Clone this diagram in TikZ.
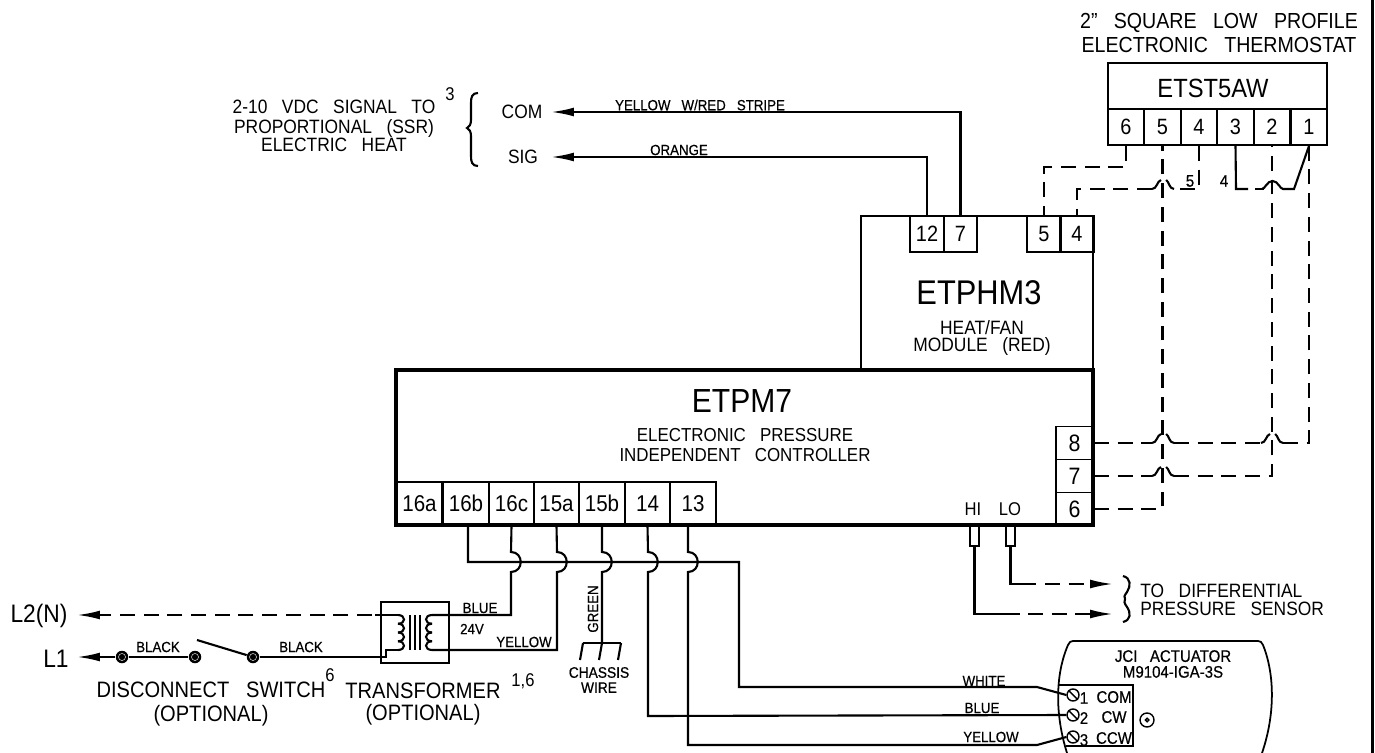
\documentclass[tikz,border=0pt]{standalone}
\usepackage{fontspec}
\setmainfont[FakeStretch=0.9,WordSpace=3]{Liberation Sans}
\newfontfamily\cadheavy[FakeStretch=0.9,WordSpace=3,FakeBold=0.5]{Liberation Sans}
\usetikzlibrary{arrows.meta}
\tikzset{
  x=0.02cm, y=-0.02cm,
  wire/.style={line width=1.2pt},
  dwire/.style={line width=1.2pt, dash pattern=on 8.5pt off 5pt},
  tip/.style={-{Latex[length=13pt,width=5pt]}},
  term/.style={draw, line width=1pt, inner sep=0pt, minimum width=0.73cm, minimum height=0.72cm, text height=9pt, text depth=0pt, font=\fontsize{12.6}{12}\selectfont},
  pmterm/.style={term, minimum width=0.91cm, minimum height=0.86cm, font=\fontsize{13}{12}\selectfont},
  sideterm/.style={term, minimum width=0.74cm, minimum height=0.66cm, text height=9.7pt, font=\fontsize{13.5}{12}\selectfont},
  boxy/.style={draw, line width=1pt, inner sep=0pt},
  txt/.style={inner sep=0pt, align=center},
  wirelbl/.style={txt, font=\cadheavy\fontsize{8.4}{9}\selectfont},
  smalltxt/.style={txt, font=\cadheavy\fontsize{9.5}{9}\selectfont},
  midtxt/.style={txt, font=\fontsize{11}{10.2}\selectfont},
  suptxt/.style={txt, font=\fontsize{10.5}{10}\selectfont},
  bigtxt/.style={txt, font=\fontsize{12.7}{14}\selectfont},
  post/.style={circle, fill=black, inner sep=0pt, minimum size=0.25cm},
  screw/.style={circle, draw, line width=0.8pt, inner sep=0pt, minimum size=0.24cm}
}
% dashed wire jumping over a vertical one
\newcommand{\dhop}[2]{
  \draw[wire] ({#1-11},#2) .. controls ({#1-6},#2) and ({#1-6},{#2-8}) .. ({#1-2},{#2-9});
  \draw[wire] ({#1+3},{#2-9}) .. controls ({#1+6},{#2-8}) and ({#1+6},#2) .. ({#1+11},#2);
}
\begin{document}
\begin{tikzpicture}
  \useasboundingbox (0,0) rectangle (1375,753);
  \draw[line width=1.8pt] (1372.5,0) -- (1372.5,753);

  % thermostat
  \node[txt,font=\fontsize{12.4}{13.6}\selectfont] (sttitle) at (1219,33) {2" SQUARE LOW PROFILE\\ELECTRONIC THERMOSTAT};
  \node[boxy,minimum width=4.38cm,minimum height=0.92cm] (stbox) at (1217.5,86) {};
  \node[txt,font=\fontsize{15}{16}\selectfont] (stname) at (1213,88) {ETST5AW};
  \foreach \nm/\lab/\xx in {st6/6/1126,st5/5/1162.5,st4/4/1199,st3/3/1235.5,st2/2/1272,st1/1/1309}
    \node[term] (\nm) at (\xx,127) {\lab};
  \node[smalltxt] (stfive) at (1190,181) {5};
  \node[smalltxt] (stfour) at (1224,181) {4};

  % heat/fan module
  \node[boxy,minimum width=4.64cm,minimum height=3.1cm] (hm) at (977,293.5) {};
  \foreach \nm/\lab/\xx in {hm12/12/927,hm7/7/960.5,hm5/5/1044,hm4/4/1077}
    \node[term,minimum width=0.67cm] (\nm) at (\xx,234) {\lab};
  \node[txt,font=\fontsize{19.5}{20}\selectfont] (hmname) at (979,293) {ETPHM3};
  \node[midtxt] (hmtxt) at (982,338) {HEAT/FAN\\MODULE (RED)};

  % controller
  \node[draw,line width=2.2pt,inner sep=0pt,minimum width=13.94cm,minimum height=3.1cm] (pm) at (744.5,447.5) {};
  \node[txt,font=\fontsize{19}{18}\selectfont] (pmname) at (742,401) {ETPM7};
  \node[midtxt,font=\fontsize{10.7}{11.3}\selectfont] (pmtxt) at (745,445) {ELECTRONIC PRESSURE\\INDEPENDENT CONTROLLER};
  \foreach \nm/\lab/\xx in {t16a/16a/419.5,t16b/16b/466,t16c/16c/511.5,t15a/15a/556.5,t15b/15b/602,t14/14/647.5,t13/13/693}
    \node[pmterm] (\nm) at (\xx,503.5) {\lab};
  \foreach \nm/\lab/\yy in {t8/8/443,t7/7/476,t6/6/509}
    \node[sideterm] (\nm) at (1074.5,\yy) {\lab};
  \node[midtxt,font=\fontsize{10.5}{11}\selectfont] (hi) at (973,509) {HI};
  \node[midtxt,font=\fontsize{10.5}{11}\selectfont] (lo) at (1010,509) {LO};
  \node[boxy,minimum width=0.18cm,minimum height=0.42cm] (histub) at (974.5,535.5) {};
  \node[boxy,minimum width=0.18cm,minimum height=0.42cm] (lostub) at (1010.5,535.5) {};

  % signal side
  \node[midtxt] (sigtxt) at (334,126) {2-10 VDC SIGNAL TO\\[1pt]PROPORTIONAL (SSR)\\ELECTRIC HEAT};
  \node[suptxt] (sigsup) at (450,94) {3};
  \draw[wire] (478,93) .. controls (472,93) and (471,97) .. (471,103) -- (471,120)
    .. controls (471,125) and (469,127) .. (467,128) .. controls (469,129) and (471,131) .. (471,136)
    -- (471,156) .. controls (471,162) and (472,166) .. (478,166);
  \node[midtxt] (com) at (522,112) {COM};
  \node[midtxt] (sig) at (523,157) {SIG};
  \coordinate (comtip) at (551,112);
  \coordinate (sigtip) at (551,157);
  \draw[wire,tip] (hm7.north) |- (comtip);
  \draw[wire,tip] (hm12.north) |- (sigtip);
  \node[wirelbl] (yellowred) at (700,105) {YELLOW W/RED STRIPE};
  \node[wirelbl] (orange) at (679,150) {ORANGE};

  % thermostat wiring
  \draw[dwire] (st6.south) |- (1044,167) -- (hm5.north);
  \draw[dwire] (st4.south) -- (1199,189) -- (1174,189);
  \dhop{1163}{189}
  \draw[dwire] (1152,189) -| (hm4.north);
  \draw[wire] (st3.south) -- (1236,189) -- (1248,189);
  \draw[dwire] (1255,189) -- (1264,189);
  \draw[wire] (1262,189) .. controls (1265,189) and (1267,181) .. (1272.5,181) .. controls (1278,181) and (1280,189) .. (1283,189) -- (1294,189) -- (st1.south);
  \draw[dwire] (t6.east) -| (st5.south);
  \draw[dwire] (t7.east) -- (1152,476);
  \dhop{1163}{476}
  \draw[dwire] (1174,476) -| (st2.south);
  \draw[dwire] (t8.east) -- (1152,443);
  \dhop{1163}{443}
  \draw[dwire] (1174,443) -- (1261,443);
  \dhop{1272}{443}
  \draw[dwire] (1283,443) -| (st1.south);

  % pressure sensor
  \coordinate (lotip) at (1113,584);
  \coordinate (hitip) at (1113,614);
  \draw[wire] (lostub.south) |- (1036,584);
  \draw[dwire,tip] (1045,584) -- (lotip);
  \draw[wire] (histub.south) |- (1020,614);
  \draw[dwire,tip] (1028,614) -- (hitip);
  \draw[wire] (1123,576) .. controls (1131,578) and (1131,586) .. (1127,592) .. controls (1124,596) and (1124,597) .. (1125,599)
    .. controls (1124,601) and (1124,603) .. (1127,607) .. controls (1131,613) and (1131,620) .. (1123,622);
  \node[midtxt,anchor=west,align=left] (senstxt) at (1140,600) {TO DIFFERENTIAL\\PRESSURE SENSOR};

  % actuator
  \draw[line width=1pt] (1067,753) .. controls (1055,715) and (1055,675) .. (1068,645) .. controls (1069,642) and (1071,641) .. (1073,641)
    -- (1258,641) .. controls (1260,641) and (1262,642) .. (1263,645) .. controls (1275,675) and (1275,715) .. (1262,753);
  \draw[line width=1pt] (1058,685) -- (1133,685) -- (1133,746) -- (1066,746);
  \node[smalltxt] (acttxt) at (1173,664) {JCI ACTUATOR\\M9104-IGA-3S};
  \foreach \nm/\lab/\yy/\ww/\wy in {sc1/1/695/COM/697,sc2/2/715/CW/717,sc3/3/737/CCW/738}{
    \node[screw] (\nm) at (1073,\yy) {};
    \draw[line width=0.8pt] (\nm.135) -- (\nm.-45);
    \node[smalltxt] (\nm num) at (1084,{\yy+3}) {\lab};
    \node[smalltxt] (\nm txt) at (1114,\wy) {\ww};
  }
  \node[screw,minimum size=0.28cm] (shaft) at (1147,720) {};
  \node[circle,draw,line width=0.8pt,inner sep=0pt,minimum size=0.07cm] (shaftin) at (1147,720) {};

  % wires down to actuator
  \draw[wire] (t16b.south -| 468,525) -- (468,562) -- (739,562) -- (739,687) -- (1037,687) -- (sc1.west);
  \draw[wire] (t14.south) -- (648,552) .. controls +(13,0) and +(13,0) .. (648,572) -- (648,716) -- (sc2.west);
  \draw[wire] (688,525) -- (688,552) .. controls +(13,0) and +(13,0) .. (688,572) -- (688,745) -- (1037,745) -- (sc3.west);
  \node[wirelbl] (white) at (984,681) {WHITE};
  \node[wirelbl] (blueact) at (982,708) {BLUE};
  \node[wirelbl] (yellowact) at (991,737) {YELLOW};

  % transformer
  \node[boxy,minimum width=1.36cm,minimum height=1.22cm] (xfmr) at (415,632.5) {};
  \foreach \i in {0,1,2,3}{
    \draw[wire] (398,{615+8.75*\i}) .. controls +(8,0) and +(8,0) .. (398,{615+8.75*(\i+1)});
    \draw[wire] (432,{615+8.75*\i}) .. controls +(-8,0) and +(-8,0) .. (432,{615+8.75*(\i+1)});
  }
  \foreach \xx in {410,415,420}
    \draw[line width=1pt] (\xx,615) -- (\xx,650);
  \coordinate (ltwotip) at (77,615);
  \node[bigtxt,font=\fontsize{14.4}{14}\selectfont] (ltwo) at (39,616) {L2(N)};
  \node[bigtxt,font=\fontsize{14.4}{14}\selectfont] (lone) at (56,659) {L1};
  \draw[dwire,tip] (372,615) -- (ltwotip);
  \draw[wire] (375,615) -- (398,615);
  \draw[wire] (t16c.south) -- (511,552) .. controls +(13,0) and +(13,0) .. (511,572) -- (511,615) -- (432,615);
  \draw[wire] (t15a.south) -- (557,552) .. controls +(13,0) and +(13,0) .. (557,572) -- (557,650) -- (432,650);
  \node[wirelbl] (blue) at (480,608) {BLUE};
  \node[wirelbl] (volts) at (472,629) {24V};
  \node[wirelbl] (yellow) at (524,642) {YELLOW};

  % switch
  \foreach \nm/\xx in {pa/122,pb/195,pc/253}{
    \node[post] (\nm) at (\xx,657) {};
    \draw[white,line width=0.25pt] (\nm) circle (2pt);
  }
  \coordinate (ltip) at (77,657);
  \draw[wire,tip] (pa) -- (ltip);
  \draw[wire] (pa) -- (pb);
  \draw[wire] (pc) -- (197,640);
  \draw[wire] (pc) -- (386,657) -- (386,650) -- (398,650);
  \node[wirelbl] (blackone) at (158,647) {BLACK};
  \node[wirelbl] (blacktwo) at (301,647) {BLACK};
  \node[bigtxt] (swtxt) at (211,704) {DISCONNECT SWITCH\\[-0.5pt](OPTIONAL)};
  \node[suptxt] (swsup) at (330,675) {6};
  \node[bigtxt] (xftxt) at (423,704) {TRANSFORMER\\[-1.5pt](OPTIONAL)};
  \node[suptxt] (xfsup) at (523,681) {1,6};

  % ground
  \draw[wire] (t15b.south) -- (602,552) .. controls +(13,0) and +(13,0) .. (602,572) -- (602,643);
  \draw[wire] (583,643) -- (621,643);
  \foreach \xx in {583,602,621}
    \draw[wire] (\xx,643) -- ({\xx-3},660);
  \node[wirelbl,rotate=90] (green) at (593,609) {GREEN};
  \node[wirelbl,font=\cadheavy\fontsize{8.7}{8.6}\selectfont] (chassis) at (599,680) {CHASSIS\\WIRE};
\end{tikzpicture}
\end{document}
